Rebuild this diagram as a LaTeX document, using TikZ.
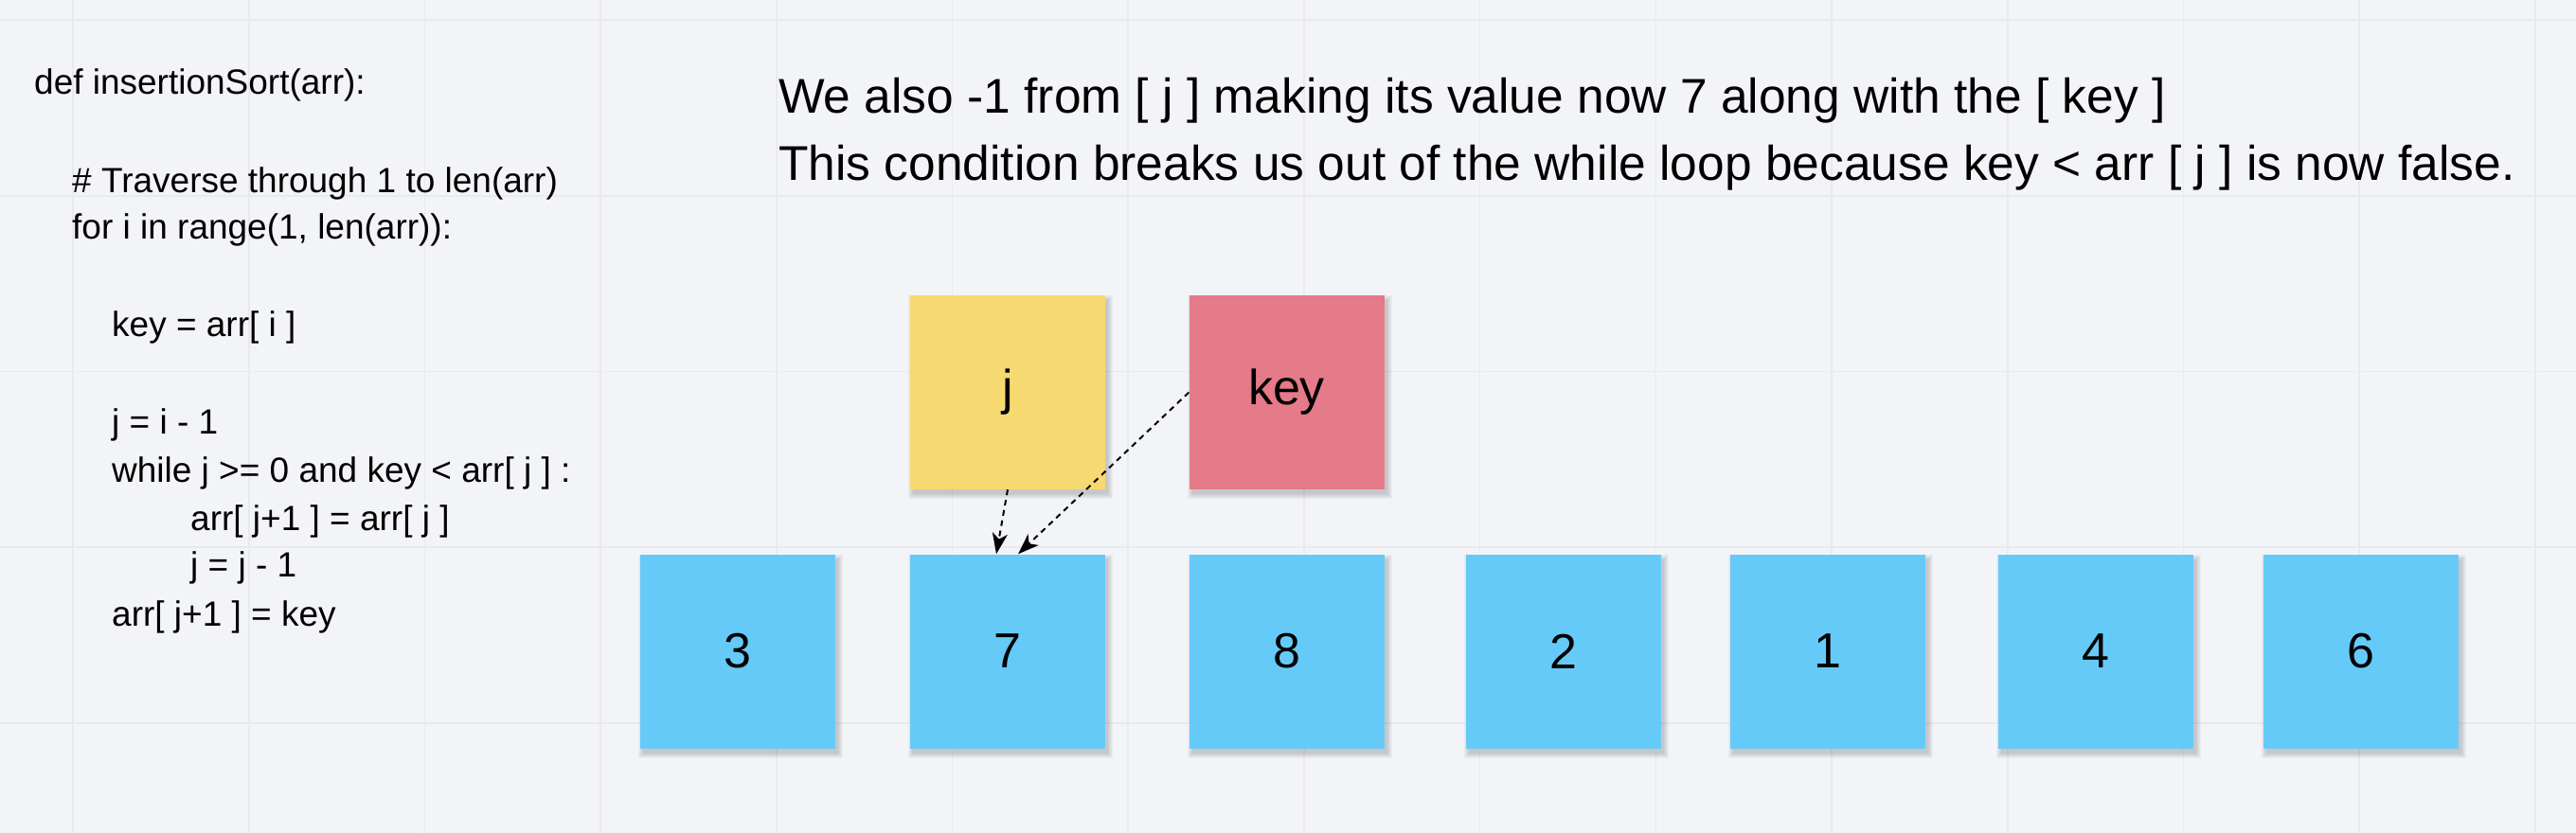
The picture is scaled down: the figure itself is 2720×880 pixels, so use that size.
\documentclass[tikz,border=0pt]{standalone}
\usepackage{fontspec}
\setmainfont{Liberation Sans}
\usetikzlibrary{arrows.meta,shadows}
\definecolor{bgc}{HTML}{F3F4F8}
\definecolor{gridc}{HTML}{E8EAEF}
\definecolor{bluec}{HTML}{66CAF9}
\definecolor{yelc}{HTML}{F6D971}
\definecolor{redc}{HTML}{E57A88}
\tikzset{
  softshadow/.style={fill=black, fill opacity=0.03, draw=none,
    shadow xshift=3pt, shadow yshift=-5pt, shadow scale=#1},
  cell/.style={rectangle, minimum width=206pt, minimum height=205pt, inner sep=0pt,
    font=\fontsize{52}{60}\selectfont,
    general shadow={softshadow=1.05},
    general shadow={softshadow=1.04},
    general shadow={softshadow=1.03},
    general shadow={softshadow=1.02},
    general shadow={softshadow=1.01},
    general shadow={softshadow=1.0}},
  code/.style={anchor=base west, inner sep=0pt, font=\fontsize{37}{44}\selectfont},
  title/.style={anchor=base west, inner sep=0pt, font=\fontsize{51.5}{60}\selectfont},
  ptr/.style={draw=black, line width=2pt, dash pattern=on 6pt off 5pt,
    -{Stealth[length=22pt, width=16pt, inset=6pt]}}
}
\begin{document}
\begin{tikzpicture}[x=1pt,y=-1pt]
\fill[bgc] (0,0) rectangle (2720,880);
\useasboundingbox (0,0) rectangle (2720,880);
\foreach \k in {0,...,14} \draw[gridc, line width=1.6pt] ({77+185.7*\k},0) -- ({77+185.7*\k},880);
\foreach \k in {0,...,4} \draw[gridc, line width=1.6pt] (0,{21+185.7*\k}) -- (2720,{21+185.7*\k});

% code
\node[code] (c1) at (36,100) {def insertionSort(arr):};
\node[code] (c2) at (76,203) {\# Traverse through 1 to len(arr)};
\node[code] (c3) at (76,252) {for i in range(1, len(arr)):};
\node[code] (c4) at (118,355) {key = arr[ i ]};
\node[code] (c5) at (118,458) {j = i - 1};
\node[code] (c6) at (118,509) {while j >= 0 and key < arr[ j ] :};
\node[code] (c7) at (201,560) {arr[ j+1 ] = arr[ j ]};
\node[code] (c8) at (201,609) {j = j - 1};
\node[code] (c9) at (118,661) {arr[ j+1 ] = key};

% title
\node[title] (t1) at (822,120) {We also -1 from [ j ] making its value now 7 along with the [ key ]};
\node[title] (t2) at (822,190.5) {This condition breaks us out of the while loop because key < arr [ j ] is now false.};

% array cells
\node[cell, fill=bluec] (b1) at (779,688) {3};
\node[cell, fill=bluec] (b2) at (1064,688) {7};
\node[cell, fill=bluec] (b3) at (1358.5,688) {8};
\node[cell, fill=bluec] (b4) at (1650.5,688) {2};
\node[cell, fill=bluec] (b5) at (1930,688) {1};
\node[cell, fill=bluec] (b6) at (2213,688) {4};
\node[cell, fill=bluec] (b7) at (2493,688) {6};

% pointers
\node[cell, fill=yelc] (j) at (1064,414.5) {j};
\node[cell, fill=redc] (key) at (1358.5,414.5) {key};

\draw[ptr] (j.south) -- ([xshift=-12pt]b2.north);
\draw[ptr] (key.west) -- ([xshift=11pt]b2.north);
\end{tikzpicture}
\end{document}
